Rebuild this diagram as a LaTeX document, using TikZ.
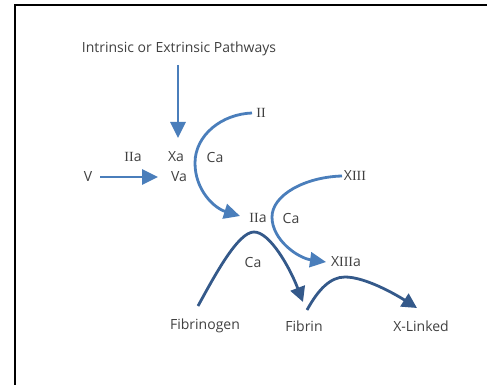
\documentclass[tikz,border=0pt]{standalone}
\usepackage{fontspec}
\setmainfont{Open Sans}
\newfontfamily\rn{Liberation Serif}
\usetikzlibrary{arrows.meta}
\definecolor{flowblue}{HTML}{4A7EBB}
\definecolor{flowdark}{HTML}{34598A}
\definecolor{labelgray}{HTML}{404040}
\tikzset{
  lbl/.style={text=labelgray, font=\fontsize{14}{16}\selectfont, inner sep=1pt},
  lightarrow/.style={draw=flowblue, line width=2.8pt, -{Triangle[length=16pt,width=15pt]}},
  darkarrow/.style={draw=flowdark, line width=2.8pt, -{Triangle[length=15pt,width=15pt]}},
}
\begin{document}
\begin{tikzpicture}[x=1pt,y=-1pt]
  \useasboundingbox (0,0) rectangle (487,385);
  % frame
  \draw[line width=2pt] (15,400) -- (15,5) -- (500,5);

  % labels
  \node[lbl] (path)  at (179,49)  {Intrinsic or Extrinsic Pathways};
  \node[lbl] (ii)    at (261,113) {{\rn II}};
  \node[lbl] (iia1)  at (133,157) {{\rn II}a};
  \node[lbl] (xa)    at (176,157) {Xa};
  \node[lbl] (ca1)   at (215,157) {Ca};
  \node[lbl] (v)     at (88,177)  {V};
  \node[lbl] (va)    at (179,177) {Va};
  \node[lbl] (iia2)  at (258,218) {{\rn II}a};
  \node[lbl] (ca2)   at (291,218) {Ca};
  \node[lbl] (xiii)  at (355,176) {X{\rn III}};
  \node[lbl] (xiiia) at (346,262) {X{\rn III}a};
  \node[lbl] (ca3)   at (253,262) {Ca};
  \node[lbl] (fgen)  at (205,326) {Fibrinogen};
  \node[lbl] (fib)   at (304,326) {Fibrin};
  \node[lbl] (xl)    at (421,326) {X-Linked};

  % pathway into Xa
  \draw[lightarrow] ([shift={(-1,16)}]path.center) -- ([shift={(2,-19)}]xa.center);
  % V to Va
  \draw[lightarrow] ([shift={(12,0)}]v.center) -- ([shift={(-21,0)}]va.center);
  % II to IIa
  \draw[lightarrow] ([shift={(-9,0)}]ii.center) .. controls (222,114) and (195,135) .. (195,163)
        .. controls (195,190) and (214,208) .. ([shift={(-18,-2)}]iia2.center);
  % XIII to XIIIa
  \draw[lightarrow] ([shift={(-13,0)}]xiii.center) .. controls (305,177) and (272,195) .. (272,217)
        .. controls (272,240) and (298,258) .. ([shift={(-20,0)}]xiiia.center);
  % fibrinogen to fibrin
  \draw[darkarrow] ([shift={(-7,-20)}]fgen.center) .. controls (215,275) and (238,232) .. (254,232)
        .. controls (270,232) and (290,268) .. ([shift={(-1,-24)}]fib.center);
  % fibrin to cross-linked
  \draw[darkarrow] ([shift={(3,-16)}]fib.center) .. controls (318,290) and (330,277) .. (345,277)
        .. controls (365,277) and (395,294) .. ([shift={(-4,-18)}]xl.center);
\end{tikzpicture}
\end{document}
